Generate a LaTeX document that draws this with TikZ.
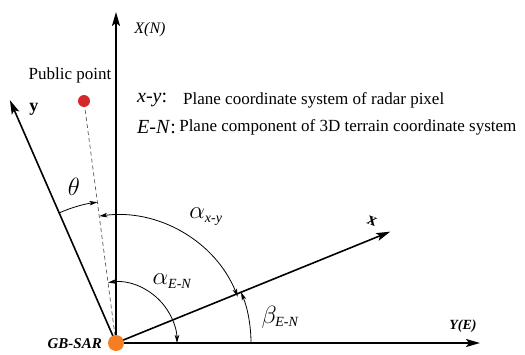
\documentclass[tikz,border=0pt]{standalone}
\usepackage{fontspec}
\setmainfont{Liberation Serif}
\usetikzlibrary{arrows.meta, positioning}

\newcommand{\subtxt}[1]{\mbox{\fontsize{14}{16}\selectfont\itshape #1}}

\begin{document}
\begin{tikzpicture}[x=1pt, y=1pt]
	\tikzset{axis/.style={line width=1.6pt, -{Stealth[length=14pt, width=8pt, inset=3pt]}},
		angarc/.style={line width=0.8pt, >={Stealth[length=8pt, width=4.5pt, inset=2pt]}},
		lbl/.style={font=\fontsize{17}{19}\selectfont, inner sep=1pt},
		axlbl/.style={font=\bfseries\itshape\fontsize{14}{16}\selectfont, inner sep=1pt},
		greek/.style={font=\fontsize{24}{26}\selectfont, inner sep=1pt}}
	\useasboundingbox (-116,-11) rectangle (409,343);

	% origin and public point
	\coordinate (O) at (0,0);
	\coordinate (Ye) at (364,0);
	\coordinate (Xn) at (0,331);
	\coordinate (xe) at (22.1:296);
	\coordinate (ye) at (113.6:265);
	\coordinate (P) at (-32,242);

	\draw[axis] (O) -- (Ye);
	\draw[axis] (O) -- (Xn);
	\draw[axis] (O) -- (xe);
	\draw[axis] (O) -- (ye);
	\draw[dashed, line width=0.7pt, dash pattern=on 4pt off 3pt, gray!70!black] (O) -- (P);

	\node[circle, fill={rgb,255:red,214;green,40;blue,40}, minimum size=12pt, inner sep=0pt] (pp) at (P) {};
	\node[circle, fill={rgb,255:red,245;green,125;blue,35}, minimum size=16pt, inner sep=0pt] (gb) at (O) {};

	% angles
	\draw[angarc, ->] (O) ++(113.6:142) arc[start angle=113.6, end angle=97.5, radius=142];
	\draw[angarc, <->] (O) ++(97.5:128) arc[start angle=97.5, end angle=22.1, radius=131];
	\draw[angarc, <->] (O) ++(97.5:61) arc[start angle=97.5, end angle=0, radius=61];
	\draw[angarc, ->] (O) ++(0:135) arc[start angle=0, end angle=22.1, radius=135];

	% labels
	\node[font=\itshape\fontsize{16}{18}\selectfont, inner sep=1pt] (xn) at (34,313) {X(N)};
	\node[axlbl] (yE) at (347,17) {Y(E)};
	\node[axlbl, font=\bfseries\itshape\fontsize{15}{17}\selectfont, anchor=east] (gbsar) at (-13,-1) {GB-SAR};
	\node[font=\bfseries\fontsize{18}{20}\selectfont] (ylab) at (-82,234) {y};
	\node[font=\bfseries\fontsize{18}{20}\selectfont, rotate=-20] (xlab) at (256,122) {x};
	\node[lbl] (pub) at (-46,268) {Public point};
	\node[greek] (th) at (-42,156) {$\theta$};
	\node[greek] (axy) at (90,126) {$\alpha_{\subtxt{x-y}}$};
	\node[greek] (aen) at (56,62) {$\alpha_{\subtxt{E-N}}$};
	\node[greek] (ben) at (164,26) {$\beta_{\subtxt{E-N}}$};

	% legend
	\node[lbl, anchor=west] (k1) at (20,243) {\fontsize{20}{22}\selectfont\textit{x-y}:};
	\node[lbl, anchor=west] (t1) at (66,243) {Plane coordinate system of radar pixel};
	\node[lbl, anchor=west] (k2) at (20,216) {\fontsize{20}{22}\selectfont\textit{E-N}:};
	\node[lbl, anchor=west, right=1pt of k2] (t2) {Plane component of 3D terrain coordinate system};
\end{tikzpicture}
\end{document}
